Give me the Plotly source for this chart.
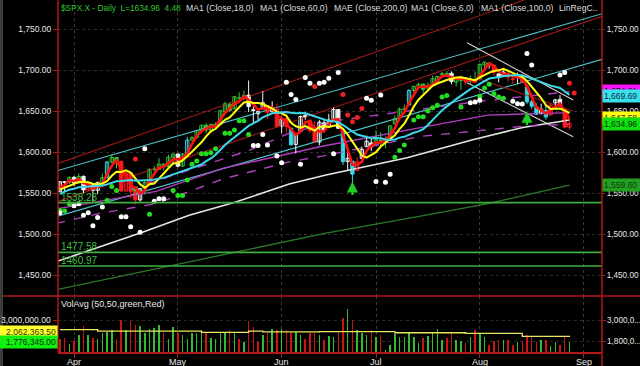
import plotly.graph_objects as go

# ---------------- data ----------------
day_idx = list(range(-3, 106))          # trading-day index, 0 = Apr 1 2013, 105 = Aug 28
month_ticks = [0, 22, 44, 64, 86, 108]
month_labels = ["Apr", "May", "Jun", "Jul", "Aug", "Sep"]

hist_closes = [1518.20, 1525.20, 1539.79, 1541.46, 1544.26, 1551.18, 1556.22, 1552.48, 1554.52,
               1563.23, 1560.70, 1552.10, 1548.34, 1558.71, 1545.80, 1556.89, 1551.69]

opens = [1551.7, 1563.8, 1562.9,
         1569.2, 1562.2, 1570.3, 1553.7, 1559.98, 1553.3, 1563.1, 1568.6, 1587.7, 1593.3,
         1588.8, 1552.4, 1574.6, 1552.0, 1541.6, 1555.3, 1562.5, 1578.8, 1578.8, 1585.2, 1582.3, 1593.6,
         1597.6, 1582.8, 1597.6, 1614.4, 1617.6, 1625.95, 1632.7, 1626.7, 1632.1, 1633.75, 1649.1, 1658.07,
         1652.45, 1665.71, 1666.2, 1669.39, 1651.62, 1646.67, 1652.63, 1656.57, 1649.14, 1652.13,
         1631.71, 1640.73, 1629.05, 1609.29, 1625.27, 1644.67, 1638.64, 1629.94, 1612.15, 1635.52,
         1630.64, 1639.77, 1651.83, 1624.62, 1588.62, 1588.77, 1577.52, 1592.27, 1606.44, 1611.12,
         1609.78, 1614.29, 1611.48, 1618.65, 1634.20, 1642.89, 1651.56, 1657.41, 1675.26, 1679.59, 1682.70,
         1677.91, 1681.05, 1686.15, 1694.41, 1695.53, 1696.06, 1685.21, 1687.31, 1690.32, 1687.92, 1687.76,
         1689.42, 1706.10, 1708.01, 1705.79, 1695.30, 1693.35, 1696.10, 1688.37, 1690.65, 1693.88,
         1679.61, 1661.22, 1655.25, 1646.81, 1650.66, 1645.03, 1659.92, 1664.29, 1652.54, 1630.25]
highs = [1563.95, 1564.07, 1570.28,
         1570.57, 1573.66, 1571.47, 1562.60, 1559.98, 1563.07, 1573.89, 1589.07, 1597.35, 1593.30,
         1588.85, 1575.35, 1574.57, 1554.38, 1555.89, 1565.55, 1580.00, 1583.00, 1592.64, 1585.78, 1596.65, 1597.57,
         1597.57, 1598.60, 1618.46, 1619.77, 1626.03, 1632.78, 1635.01, 1633.70, 1636.00, 1651.10, 1661.49, 1660.51,
         1667.47, 1672.84, 1674.93, 1687.18, 1655.50, 1649.78, 1674.21, 1656.57, 1661.91, 1658.99,
         1640.42, 1646.53, 1629.31, 1622.56, 1644.40, 1648.69, 1640.13, 1637.71, 1639.25, 1640.80,
         1646.50, 1654.19, 1652.45, 1624.62, 1599.19, 1588.77, 1593.79, 1606.83, 1620.07, 1615.94,
         1626.61, 1624.26, 1618.97, 1632.07, 1644.68, 1654.18, 1657.92, 1676.63, 1680.19, 1684.51, 1683.73,
         1684.75, 1693.12, 1692.09, 1697.61, 1698.78, 1698.38, 1690.94, 1691.85, 1690.92, 1693.19, 1698.43,
         1707.85, 1709.67, 1709.24, 1705.79, 1695.30, 1700.18, 1699.42, 1691.49, 1696.81, 1695.52,
         1679.61, 1663.60, 1659.18, 1658.92, 1656.99, 1659.55, 1664.85, 1669.51, 1652.54, 1641.18]
lows = [1551.69, 1551.90, 1561.08,
        1558.47, 1562.17, 1549.80, 1552.52, 1539.50, 1548.63, 1560.92, 1568.61, 1586.17, 1579.97,
        1552.28, 1552.36, 1543.69, 1536.03, 1539.40, 1548.19, 1562.50, 1575.80, 1578.93, 1577.56, 1582.34, 1586.50,
        1581.28, 1582.77, 1597.60, 1614.21, 1616.64, 1622.70, 1623.09, 1623.71, 1626.74, 1633.75, 1646.68, 1648.60,
        1652.45, 1663.52, 1662.67, 1648.86, 1635.53, 1636.88, 1652.63, 1640.05, 1648.61, 1630.74,
        1622.72, 1623.62, 1607.09, 1598.23, 1625.27, 1639.26, 1622.92, 1610.92, 1608.07, 1623.96,
        1630.34, 1639.77, 1628.91, 1584.32, 1577.70, 1560.33, 1577.09, 1592.27, 1606.44, 1601.06,
        1609.78, 1606.77, 1604.57, 1614.71, 1634.20, 1642.89, 1647.66, 1657.41, 1672.33, 1677.89, 1671.84,
        1677.91, 1681.05, 1684.08, 1690.67, 1691.13, 1682.57, 1680.07, 1676.03, 1681.86, 1682.42, 1684.94,
        1689.42, 1700.68, 1701.63, 1693.29, 1684.91, 1693.35, 1686.02, 1683.35, 1682.62, 1684.83,
        1658.59, 1652.61, 1645.84, 1646.08, 1639.43, 1645.03, 1654.81, 1656.02, 1629.05, 1627.47]
closes = [1563.77, 1562.85, 1569.19,
          1562.17, 1570.25, 1553.69, 1559.98, 1553.28, 1563.07, 1568.61, 1587.73, 1593.37, 1588.85,
          1552.36, 1574.57, 1552.01, 1541.61, 1555.25, 1562.50, 1578.78, 1578.79, 1585.16, 1582.24, 1593.61, 1597.57,
          1582.70, 1597.59, 1614.42, 1617.50, 1625.96, 1632.69, 1626.67, 1633.70, 1633.77, 1650.34, 1658.78, 1650.47,
          1667.47, 1666.29, 1669.16, 1655.35, 1650.51, 1649.60, 1660.06, 1648.36, 1654.41, 1630.74,
          1640.42, 1631.38, 1608.90, 1622.56, 1643.38, 1642.81, 1626.13, 1612.52, 1636.36, 1626.73,
          1639.04, 1651.81, 1628.93, 1588.19, 1592.43, 1573.09, 1588.03, 1603.26, 1613.20, 1606.28,
          1614.96, 1614.08, 1615.41, 1631.89, 1640.46, 1652.32, 1652.62, 1675.02, 1680.19, 1682.50, 1676.26,
          1680.91, 1689.37, 1692.09, 1695.53, 1692.39, 1685.94, 1690.25, 1691.65, 1685.33, 1685.96, 1685.73,
          1706.87, 1709.67, 1707.14, 1697.37, 1690.91, 1697.48, 1691.42, 1689.47, 1694.16, 1685.39,
          1661.32, 1655.83, 1646.06, 1652.35, 1642.80, 1656.96, 1663.50, 1656.78, 1630.48, 1634.96]

# candle paint category per day: g=green, r=red, w=white, c=cyan
candle_class = ("wwg" + "wgwrwwgcggrrrrwggggggg" + "wgc" + "gggggggggggg" + "wwwwrwr"
                + "wrcwwwrrwwwwwcwcrwww" + "gggggggcggggggggwggrgg"
                + "ggwrwwrrwrcccwcrwwrr")

volumes = [1930000, 1980000, 1650000,
           1850000, 2170000, 2670000, 2170000, 2000000, 1930000, 2260000, 2350000, 2440000, 1930000,
           3040000, 2440000, 2950000, 2760000, 2670000, 2260000, 2540000, 2570000, 2720000, 2260000, 1930000, 2630000,
           2300000, 2170000, 1930000, 2260000, 2260000, 2440000, 2260000, 1980000, 1930000, 2260000, 2300000,
           2440000, 2260000, 1930000, 1800000, 2950000, 2630000, 1800000, 2170000, 2260000, 2540000, 2440000,
           2540000, 2440000, 2260000, 2350000, 2170000, 1930000, 2260000, 2260000,
           2170000, 1890000, 2110000, 2040000, 2350000, 3130000, 3650000, 3000000, 2480000, 2300000, 2170000, 2480000,
           2040000, 2170000, 1300000, 1610000, 2220000, 2070000, 2070000, 2260000, 2070000, 1740000, 1980000,
           2110000, 2260000, 2540000, 1890000, 1980000, 2260000, 1890000, 1850000, 1740000, 2070000, 2440000,
           2260000, 2040000, 1610000, 1850000, 1890000, 1890000, 1890000, 1610000, 1800000, 1850000, 2170000,
           2040000, 1800000, 1890000, 1890000, 1520000, 1800000, 1610000, 2110000, 1776345]

vol_avg_x = [-3, 5, 27, 37, 40, 52, 68, 83, 95, 105]
vol_avg_y = [2480000, 2390000, 2320000, 2390000, 2350000, 2370000, 2300000, 2260000, 2100000, 2062363]

# slow averages (index, value)
ma100_x = [-3.4, 9.7, 14.5, 24.4, 34.3, 45.6, 53.4, 70.6, 84.5, 95.1, 105]
ma100_y = [1467, 1492, 1502, 1523, 1539, 1561, 1572, 1593, 1615, 1630, 1639]
ma200_x = [-3.8, 24.4, 53.4, 73.7, 87.7, 105]
ma200_y = [1432, 1466, 1501, 1522, 1537, 1559.6]
ma60_x = [-3.4, 17.4, 31.5, 45.6, 52.6, 73.7, 87.7, 105]
ma60_y = [1531, 1552, 1580, 1598, 1607, 1630, 1645, 1648]
env_up_x = [11.7, 24.4, 37.1, 45.6, 56.4, 87.7, 105]
env_up_y = [1554, 1578, 1602, 1623, 1639, 1663, 1673.5]
env_dn_x = [-3.8, 5.4, 17.4, 31.5, 45.6, 52.6, 73.3, 94.5, 105]
env_dn_y = [1513, 1525, 1537, 1567, 1588, 1595, 1619, 1631, 1634]

# regression channels (index, price) end points
red_chan_x = [-3.8, 112]
red_chan_upper = [1585.4, 1818.8]
red_chan_lower = [1539.0, 1765.6]
cyan_chan_x = [-3.8, 112]
cyan_chan_upper = [1576.8, 1768.8]
cyan_chan_lower = [1521.1, 1713.1]
down_chan_x = [83.3, 105.8]
down_chan_upper = [1733.3, 1663.4]
down_chan_lower = [1684.5, 1618.7]
down_chan_mid_x = [85.2, 105.7]
down_chan_mid = [1690.2, 1650.0]

levels = [1538.23, 1477.58, 1460.97]

green_dots_x = [-3, -2, -1, 7, 8, 9, 13, 16, 21, 22, 23, 24, 25, 26, 27, 28, 29, 30, 32, 33, 34, 35, 36, 37,
                68, 69, 70, 72, 73, 74, 75, 76, 77, 78, 79, 82, 86, 87, 88, 89, 90, 91]
green_dots_y = [1529, 1528, 1537, 1541, 1558, 1553, 1555, 1524, 1553, 1547, 1547, 1566, 1585, 1589, 1598, 1598,
                1599, 1604, 1623, 1623, 1627, 1638, 1638, 1621.5,
                1593.5, 1602, 1608.5, 1639, 1643, 1643, 1650, 1654, 1657, 1667, 1669, 1655, 1668, 1678, 1682.5,
                1671, 1667, 1665.5]
white_dots_x = [-3, 0, 1, 2, 3, 4, 5, 6, 10, 11, 12, 14, 15, 17, 18, 19, 38, 39, 40, 41, 43, 44, 45, 46, 47,
                48, 49, 50, 52, 53, 54, 55, 56, 62, 63, 64, 65, 66, 67, 84, 85, 86, 93, 94, 95, 96, 97, 103, 104]
white_dots_y = [1526, 1534.5, 1537, 1523, 1526, 1510, 1520, 1533, 1521, 1521, 1509, 1502, 1604, 1540, 1543, 1543,
                1608, 1608, 1621.5, 1608.5, 1595, 1587, 1685, 1670, 1664, 1585, 1691, 1684, 1684, 1685, 1690,
                1598, 1697, 1665.5, 1663, 1564, 1669.5, 1563, 1573, 1660, 1661, 1663, 1662, 1659, 1658.5,
                1720, 1706, 1694, 1697]
red_dots_x = [13, 51, 57, 58, 59, 60, 61, 105, 106]
red_dots_y = [1591.5, 1680, 1670, 1645, 1637, 1642, 1653, 1684, 1672]

signal_x = [59, 96]
signal_y = [1564, 1649]

# --------------- helpers ---------------
def rolling(vals, n):
    return [None if i + 1 < n else sum(vals[i + 1 - n:i + 1]) / n for i in range(len(vals))]

all_c = hist_closes + closes
k = len(hist_closes)
ma3 = rolling(all_c, 3)[k:]
ma6 = rolling(all_c, 6)[k:]
ma18 = rolling(all_c, 18)[k:]

FONT = "Liberation Sans, Arial, sans-serif"
FS = 8.5
CLR = {"g": "#35c435", "r": "#ff1c1c", "w": "#f2f2f2", "c": "#38d8e2"}

fig = go.Figure()

def add_line(x, y, color, width, dash="solid", yaxis="y"):
    fig.add_trace(go.Scatter(x=x, y=y, mode="lines", line=dict(color=color, width=width, dash=dash),
                             hoverinfo="skip", showlegend=False, yaxis=yaxis))

# channels
add_line(red_chan_x, red_chan_upper, "#a01818", 1.1)
add_line(red_chan_x, red_chan_lower, "#a01818", 1.1)
add_line(cyan_chan_x, cyan_chan_upper, "#4fc4c8", 1.1)
add_line(cyan_chan_x, cyan_chan_lower, "#4fc4c8", 1.1)
add_line(down_chan_x, down_chan_upper, "#d0d0d0", 1.1)
add_line(down_chan_x, down_chan_lower, "#d0d0d0", 1.1)
add_line(down_chan_mid_x, down_chan_mid, "#a01818", 1.1)

# slow averages
add_line(ma200_x, ma200_y, "#2a7a2a", 1.3)
add_line(ma100_x, ma100_y, "#e6e6e6", 1.6)
add_line(ma60_x, ma60_y, "#b040c0", 1.4)
add_line(env_up_x, env_up_y, "#b040c0", 1.4, "dash")
add_line(env_dn_x, env_dn_y, "#b040c0", 1.4, "dash")

# candles: wicks then bodies
for cat in "gwrc":
    wx, wy = [], []
    for i, cc in enumerate(candle_class):
        if cc == cat:
            hi = max(highs[i], opens[i], closes[i])
            lo = min(lows[i], opens[i], closes[i])
            wx += [day_idx[i], day_idx[i], None]
            wy += [lo, hi, None]
    add_line(wx, wy, CLR[cat], 1)
for cat in "gwrc":
    for filled in (False, True):
        xs, base, h = [], [], []
        for i, cc in enumerate(candle_class):
            if cc == cat and ((closes[i] < opens[i]) == filled):
                xs.append(day_idx[i])
                base.append(min(opens[i], closes[i]))
                h.append(max(abs(closes[i] - opens[i]), 0.4))
        if xs:
            fig.add_trace(go.Bar(x=xs, y=h, base=base, width=0.7,
                                 marker=dict(color=CLR[cat] if filled else "#000000",
                                             line=dict(color=CLR[cat], width=1)),
                                 hoverinfo="skip", showlegend=False))

# dots
for xs, ys, col in [(green_dots_x, green_dots_y, "#22dd22"), (white_dots_x, white_dots_y, "#ffffff"),
                    (red_dots_x, red_dots_y, "#ee2020")]:
    fig.add_trace(go.Scatter(x=xs, y=ys, mode="markers", marker=dict(color=col, size=5),
                             hoverinfo="skip", showlegend=False))

# fast averages
add_line(day_idx, ma3, "#ff1010", 2.6)
add_line(day_idx, ma6, "#ffff10", 2.0)
add_line(day_idx, ma18, "#3ad8e8", 2.0)

# volume
vcol = ["#33bb33" if (i > 0 and closes[i] >= closes[i - 1]) else "#cc1414" for i in range(len(closes))]
fig.add_trace(go.Bar(x=day_idx, y=volumes, marker=dict(color=vcol, line=dict(width=0)), width=0.32,
                     xaxis="x2", yaxis="y2", hoverinfo="skip", showlegend=False))
fig.add_trace(go.Scatter(x=vol_avg_x, y=vol_avg_y, mode="lines", line=dict(color="#e8e860", width=1.3, shape="hv"),
                         xaxis="x2", yaxis="y2", hoverinfo="skip", showlegend=False))
# dummy for right price axis
fig.add_trace(go.Scatter(x=[day_idx[0]], y=[closes[0]], mode="markers", marker=dict(opacity=0),
                         yaxis="y3", hoverinfo="skip", showlegend=False))

XR = [-3.4, 111.9]
YR = [1424.4, 1785.4]
VR = [1207000, 4390000]
PD = 56 / 352
tickfont = dict(family=FONT, size=FS, color="#e8e8e8")
PT = [1450, 1500, 1550, 1600, 1650, 1700, 1750]

fig.update_layout(
    template="none",
    width=640, height=366, margin=dict(l=58, r=38, t=0, b=14, pad=0),
    paper_bgcolor="#000000", plot_bgcolor="#000000", barmode="overlay", bargap=0,
    showlegend=False, font=dict(family=FONT, color="#e8e8e8"),
    xaxis=dict(range=XR, domain=[0, 1], anchor="y", tickvals=month_ticks, showticklabels=False, automargin=False,
               showgrid=True, gridcolor="#3a3a3a", griddash="dot", gridwidth=1, zeroline=False, ticks="",
               showline=False),
    xaxis2=dict(range=XR, domain=[0, 1], anchor="y2", matches="x", tickvals=month_ticks, showticklabels=False,
                ticks="outside", ticklen=4, tickcolor="#b01818", automargin=False,
                showline=True, linecolor="#b01818", linewidth=1.5, showgrid=True, gridcolor="#3a3a3a",
                griddash="dot", zeroline=False),
    yaxis=dict(domain=[PD, 1], range=YR, tickvals=PT, automargin=False, showline=False,
               tickformat=",.2f", tickfont=tickfont, ticks="outside", ticklen=4, tickcolor="#b01818",
               showgrid=True, gridcolor="#2e2e2e", griddash="dot", zeroline=False),
    yaxis3=dict(overlaying="y", side="right", anchor="x", range=YR, tickvals=PT, automargin=False, showline=False,
                tickformat=",.2f", tickfont=dict(family=FONT, size=8.2, color="#e8e8e8"),
                ticks="outside", ticklen=2, tickcolor="#b01818",
                showgrid=False, zeroline=False),
    yaxis2=dict(domain=[0, PD], range=VR, tickvals=[1800000, 3000000], showticklabels=False,
                automargin=False, showline=False,
                ticks="outside", ticklen=4, tickcolor="#b01818", showgrid=True, gridcolor="#2a2a2a",
                griddash="dot", zeroline=False),
)

shapes = []
for lv in levels:
    shapes.append(dict(type="line", xref="paper", x0=0, x1=1, yref="y", y0=lv, y1=lv,
                       line=dict(color="#3fae3f", width=1.6)))
shapes += [
    dict(type="line", xref="paper", x0=-58 / 544, x1=1 + 38 / 544, yref="paper", y0=PD, y1=PD,
         line=dict(color="#b01818", width=1.5)),
    dict(type="line", xref="paper", x0=0, x1=0, yref="paper", y0=0, y1=1, line=dict(color="#b01818", width=1.5)),
    dict(type="line", xref="paper", x0=1, x1=1, yref="paper", y0=-14 / 352, y1=1,
         line=dict(color="#b01818", width=1.5)),
    dict(type="line", xref="paper", x0=1, x1=1 + 4 / 544, yref="y2", y0=3000000, y1=3000000,
         line=dict(color="#b01818", width=1)),
    dict(type="line", xref="paper", x0=1, x1=1 + 4 / 544, yref="y2", y0=1800000, y1=1800000,
         line=dict(color="#b01818", width=1)),
    dict(type="rect", xref="paper", x0=-58 / 544, x1=-55 / 544, yref="paper", y0=-14 / 352, y1=1,
         fillcolor="#3c3c3c", line=dict(width=0)),
]
fig.update_layout(shapes=shapes)

ann = []
def px(xp):
    return (xp - 58) / 544

legend_items = [(58.5, "$SPX.X - Daily&nbsp; L=1634.96&nbsp; 4.48", "#35c435", 8.3),
                (184, "MA1 (Close,18,0)", "#dcdcdc", 8.7),
                (258, "MA1 (Close,60,0)", "#dcdcdc", 8.7), (332, "MAE (Close,200,0)", "#dcdcdc", 8.7),
                (409, "MA1 (Close,6,0)", "#dcdcdc", 8.7), (479, "MA1 (Close,100,0)", "#dcdcdc", 8.7),
                (557, "LinRegC..", "#dcdcdc", 8.7)]
for xp, t, c, s in legend_items:
    ann.append(dict(xref="paper", yref="paper", x=px(xp), y=1, xanchor="left", yanchor="top", yshift=-1,
                    text=t, showarrow=False, font=dict(family=FONT, size=s, color=c)))

for lv in levels:
    ann.append(dict(xref="paper", yref="y", x=0, y=lv, xanchor="left", yanchor="bottom", xshift=1, yshift=-2,
                    text=f"{lv:.2f}", showarrow=False, font=dict(family=FONT, size=10, color="#3fbf3f")))

ann.append(dict(xref="paper", yref="paper", x=0, y=PD, xanchor="left", yanchor="top", xshift=1, yshift=-1,
                text="VolAvg (50,50,green,Red)", showarrow=False, font=dict(family=FONT, size=FS + 0.5, color="#e8e8e8")))

# month labels
for mt, ml in zip(month_ticks, month_labels):
    ann.append(dict(xref="x2", yref="paper", x=mt, y=0, xanchor="center", yanchor="top", yshift=-3,
                    text=ml, showarrow=False, font=dict(family=FONT, size=FS + 0.5, color="#e8e8e8")))

# right-side value boxes (price)
boxes = [(env_up_y[-1], "1,674.21", "#ff10ff", "#000000", 1),
         (ma18[-1], f"{ma18[-1]:,.2f}", "#3ae0ea", "#0a3050", -1),
         (ma6[-1], f"{ma6[-1]:,.2f}", "#ffff10", "#303000", -5),
         (closes[-1], f"{closes[-1]:,.2f}", "#10e010", "#0a300a", -1),
         (ma200_y[-1], f"{ma200_y[-1]:,.2f}", "#23a023", "#0a400a", 0)]
for v, t, bg, fc, ys in boxes:
    ann.append(dict(xref="paper", yref="y", x=1, y=v, xanchor="left", yanchor="middle", xshift=0, yshift=ys,
                    text=t, showarrow=False, bgcolor=bg, borderpad=1, width=36, align="left",
                    font=dict(family=FONT, size=FS, color=fc)))

# volume labels
ann.append(dict(xref="paper", yref="y2", x=1, y=3000000, xanchor="left", yanchor="middle", xshift=3,
                text="3,000,0...", showarrow=False, font=dict(family=FONT, size=8.2, color="#e8e8e8")))
ann.append(dict(xref="paper", yref="y2", x=1, y=1800000, xanchor="left", yanchor="middle", xshift=3,
                text="1,800,0...", showarrow=False, font=dict(family=FONT, size=8.2, color="#e8e8e8")))
ann.append(dict(xref="paper", yref="y2", x=0, y=3000000, xanchor="right", yanchor="middle", xshift=-5,
                text="3,000,000.00", showarrow=False, font=dict(family=FONT, size=FS, color="#e8e8e8")))
ann.append(dict(xref="paper", yref="y2", x=0, y=vol_avg_y[-1], xanchor="right", yanchor="middle", xshift=0, yshift=5,
                text="2,062,363.50", showarrow=False, bgcolor="#ffff30", borderpad=1, width=56, align="right",
                font=dict(family=FONT, size=FS, color="#303000")))
ann.append(dict(xref="paper", yref="y2", x=0, y=volumes[-1], xanchor="right", yanchor="middle", xshift=0,
                text=f"{volumes[-1]:,.2f}", showarrow=False, bgcolor="#10f010", borderpad=1, width=56, align="right",
                font=dict(family=FONT, size=FS, color="#0a300a")))

# signal arrows
for sx, sy in zip(signal_x, signal_y):
    ann.append(dict(x=sx, y=sy, xref="x", yref="y", ax=0, ay=15, showarrow=True, arrowhead=2, arrowsize=1,
                    arrowwidth=2.2, arrowcolor="#22cc22", text=""))

fig.update_layout(annotations=ann)
fig.write_html("out.html", config={"displayModeBar": False, "staticPlot": True},
               post_script="document.body.style.margin='0';document.body.style.padding='0';"
                           "document.body.style.background='#000';")
